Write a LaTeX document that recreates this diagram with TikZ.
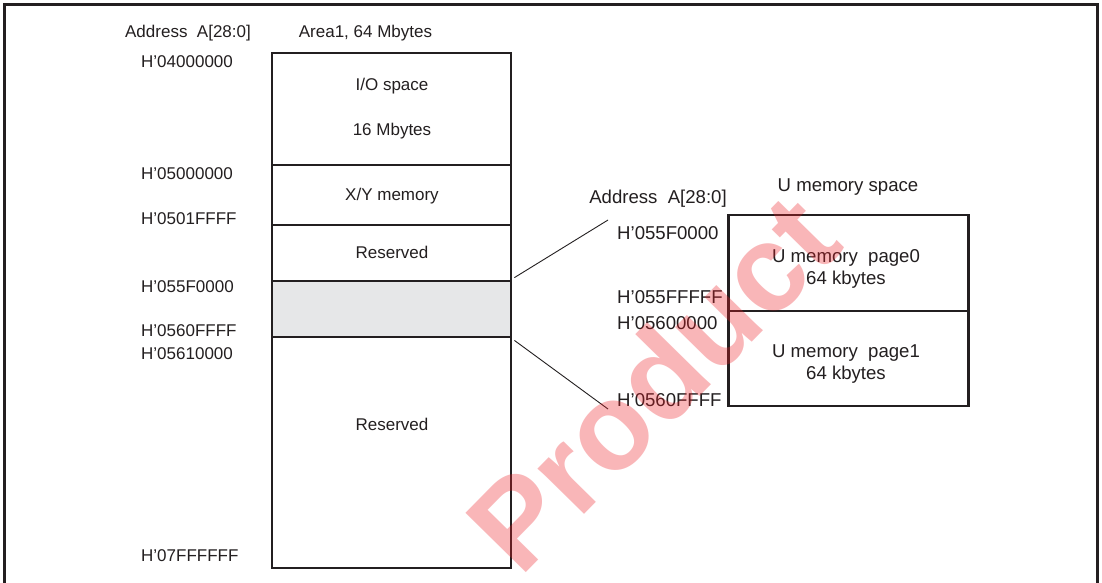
\documentclass[tikz,border=0pt]{standalone}
\usepackage{fontspec}
\setmainfont{Liberation Sans}
\definecolor{ink}{HTML}{231F20}
\definecolor{shade}{HTML}{E6E7E8}
\definecolor{wm}{HTML}{ED1C24}
\begin{document}
\begin{tikzpicture}[x=1pt,y=-1pt,
  txt/.style={font=\fontsize{17}{20}\selectfont, text=ink, inner sep=0pt},
  rtxt/.style={font=\fontsize{18.6}{22}\selectfont, text=ink, inner sep=0pt},
  seg/.style={draw=ink, line width=2.8pt, rectangle, inner sep=0pt},
  mainseg/.style={seg, minimum width=239pt},
  useg/.style={seg, minimum width=240pt},
  thin/.style={draw=ink, line width=0.9pt}]
\useasboundingbox (0,0) rectangle (1102,582);
\fill[white] (0,0) rectangle (1102,582);
% frame
\draw[ink, line width=2.8pt] (4.5,583) -- (4.5,4.5) -- (1097.5,4.5) -- (1097.5,583);

% headers
\node[txt] (hAddr) at (188,33) {Address~~A[28:0]};
\node[txt] (hArea) at (365.5,33) {Area1, 64 Mbytes};

% main memory map
\node[mainseg, minimum height=112pt] (io) at (391.5,109) {};
\node[mainseg, minimum height=60pt] (xy) at (391.5,195) {};
\node[mainseg, minimum height=56pt] (res1) at (391.5,253) {};
\node[mainseg, minimum height=56pt, fill=shade] (umem) at (391.5,309) {};
\node[mainseg, minimum height=231pt] (res2) at (391.5,452.5) {};

\node[txt] (tio1) at (392,86) {I/O space};
\node[txt] (tio2) at (392,131) {16 Mbytes};
\node[txt] (txy) at (392,196) {X/Y memory};
\node[txt] (tr1) at (392,252) {Reserved};
\node[txt] (tr2) at (392,424) {Reserved};

% left addresses
\node[txt, anchor=west] (a1) at (141,62) {H'04000000};
\node[txt, anchor=west] (a2) at (141,174) {H'05000000};
\node[txt, anchor=west] (a3) at (141,219) {H'0501FFFF};
\node[txt, anchor=west] (a4) at (141,287) {H'055F0000};
\node[txt, anchor=west] (a5) at (141,331) {H'0560FFFF};
\node[txt, anchor=west] (a6) at (141,354) {H'05610000};
\node[txt, anchor=west] (a7) at (141,556) {H'07FFFFFF};

% U memory space
\node[rtxt] (uAddr) at (658,199) {Address~~A[28:0]};
\node[rtxt] (uHead) at (848,187) {U memory space};
\node[useg, minimum height=96pt] (p0) at (848.5,263) {};
\node[useg, minimum height=95pt] (p1) at (848.5,358.5) {};
\node[rtxt] (tp0a) at (846,258) {U memory~~page0};
\node[rtxt] (tp0b) at (846,280) {64 kbytes};
\node[rtxt] (tp1a) at (846,353) {U memory~~page1};
\node[rtxt] (tp1b) at (846,375) {64 kbytes};

\node[rtxt, anchor=west] (b1) at (617,233) {H'055F0000};
\node[rtxt, anchor=west] (b2) at (617,297) {H'055FFFFF};
\node[rtxt, anchor=west] (b3) at (617,323) {H'05600000};
\node[rtxt, anchor=west] (b4) at (617,400) {H'0560FFFF};

% connectors
\coordinate (c1) at (608,220);
\coordinate (c2) at (608,409);
\draw[thin] ([xshift=2pt,yshift=2pt]umem.north east) -- (c1);
\draw[thin] ([xshift=2pt,yshift=-2pt]umem.south east) -- (c2);

% watermark
\node[rotate=45.5, font=\bfseries\fontsize{123}{123}\selectfont, text=wm, opacity=0.32, inner sep=0pt] (wmark) at (652,382) {Product};
\end{tikzpicture}
\end{document}
